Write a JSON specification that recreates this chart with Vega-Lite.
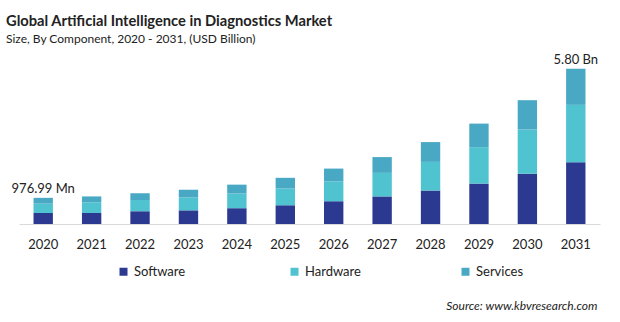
{
  "$schema": "https://vega.github.io/schema/vega-lite/v6.json",
  "width": 581,
  "height": 174,
  "autosize": {"type": "none"},
  "padding": {"left": 19, "top": 50, "right": 20, "bottom": 98},
  "background": "white",
  "config": {"view": {"stroke": null}, "font": "Lato"},
  "title": {
    "text": "Global Artificial Intelligence in Diagnostics Market",
    "subtitle": "Size, By Component,  2020 - 2031, (USD Billion)",
    "anchor": "start",
    "frame": "group",
    "dx": -13,
    "fontSize": 14.7,
    "fontWeight": "bold",
    "color": "#222222",
    "subtitleFontSize": 12,
    "subtitleColor": "#222222",
    "subtitlePadding": 5,
    "offset": 5
  },
  "layer": [
    {
      "data": {
        "values": [
          {"year": "2020", "component": "Software", "order": 1, "value": 0.41},
          {"year": "2020", "component": "Hardware", "order": 2, "value": 0.35},
          {"year": "2020", "component": "Services", "order": 3, "value": 0.217},
          {"year": "2021", "component": "Software", "order": 1, "value": 0.41},
          {"year": "2021", "component": "Hardware", "order": 2, "value": 0.40},
          {"year": "2021", "component": "Services", "order": 3, "value": 0.22},
          {"year": "2022", "component": "Software", "order": 1, "value": 0.48},
          {"year": "2022", "component": "Hardware", "order": 2, "value": 0.415},
          {"year": "2022", "component": "Services", "order": 3, "value": 0.25},
          {"year": "2023", "component": "Software", "order": 1, "value": 0.51},
          {"year": "2023", "component": "Hardware", "order": 2, "value": 0.48},
          {"year": "2023", "component": "Services", "order": 3, "value": 0.29},
          {"year": "2024", "component": "Software", "order": 1, "value": 0.59},
          {"year": "2024", "component": "Hardware", "order": 2, "value": 0.55},
          {"year": "2024", "component": "Services", "order": 3, "value": 0.33},
          {"year": "2025", "component": "Software", "order": 1, "value": 0.70},
          {"year": "2025", "component": "Hardware", "order": 2, "value": 0.625},
          {"year": "2025", "component": "Services", "order": 3, "value": 0.40},
          {"year": "2026", "component": "Software", "order": 1, "value": 0.85},
          {"year": "2026", "component": "Hardware", "order": 2, "value": 0.74},
          {"year": "2026", "component": "Services", "order": 3, "value": 0.48},
          {"year": "2027", "component": "Software", "order": 1, "value": 1.03},
          {"year": "2027", "component": "Hardware", "order": 2, "value": 0.88},
          {"year": "2027", "component": "Services", "order": 3, "value": 0.59},
          {"year": "2028", "component": "Software", "order": 1, "value": 1.25},
          {"year": "2028", "component": "Hardware", "order": 2, "value": 1.07},
          {"year": "2028", "component": "Services", "order": 3, "value": 0.74},
          {"year": "2029", "component": "Software", "order": 1, "value": 1.51},
          {"year": "2029", "component": "Hardware", "order": 2, "value": 1.36},
          {"year": "2029", "component": "Services", "order": 3, "value": 0.88},
          {"year": "2030", "component": "Software", "order": 1, "value": 1.875},
          {"year": "2030", "component": "Hardware", "order": 2, "value": 1.65},
          {"year": "2030", "component": "Services", "order": 3, "value": 1.10},
          {"year": "2031", "component": "Software", "order": 1, "value": 2.31},
          {"year": "2031", "component": "Hardware", "order": 2, "value": 2.14},
          {"year": "2031", "component": "Services", "order": 3, "value": 1.35}
        ]
      },
      "mark": {"type": "bar"},
      "encoding": {
        "x": {
          "field": "year",
          "type": "ordinal",
          "scale": {"paddingInner": 0.6, "paddingOuter": 0.3},
          "axis": {
            "title": "Source: www.kbvresearch.com",
            "titleFontStyle": "italic",
            "titleFontWeight": "normal",
            "titleFontSize": 12,
            "titleColor": "#222222",
            "titleAlign": "right",
            "titleBaseline": "alphabetic",
            "titleX": 578,
            "titleY": 85,
            "labelAngle": 0,
            "labelFontSize": 13,
            "labelColor": "#222222",
            "labelPadding": 14,
            "ticks": false,
            "domainColor": "#d9d9d9",
            "domainWidth": 1
          }
        },
        "y": {
          "field": "value",
          "type": "quantitative",
          "stack": "zero",
          "scale": {"domain": [0, 6.4]},
          "axis": null
        },
        "color": {
          "field": "component",
          "type": "nominal",
          "scale": {
            "domain": ["Software", "Hardware", "Services"],
            "range": ["#2B3990", "#4FC3CF", "#49A9C4"]
          },
          "legend": {
            "title": null,
            "orient": "none",
            "direction": "horizontal",
            "legendX": 98,
            "legendY": 215,
            "gridAlign": "all",
            "symbolType": "square",
            "symbolSize": 64,
            "symbolStrokeWidth": 0,
            "labelFontSize": 13,
            "labelColor": "#222222",
            "labelOffset": 4,
            "columnPadding": 98
          }
        },
        "order": {"field": "order", "type": "quantitative"}
      }
    },
    {
      "data": {
        "values": [
          {"year": "2020", "total": 0.977, "label": "976.99 Mn"},
          {"year": "2031", "total": 5.80, "label": "5.80 Bn"}
        ]
      },
      "mark": {"type": "text", "dy": -5, "fontSize": 13, "color": "#222222", "baseline": "alphabetic"},
      "encoding": {
        "x": {"field": "year", "type": "ordinal"},
        "y": {"field": "total", "type": "quantitative"},
        "text": {"field": "label"}
      }
    }
  ]
}
